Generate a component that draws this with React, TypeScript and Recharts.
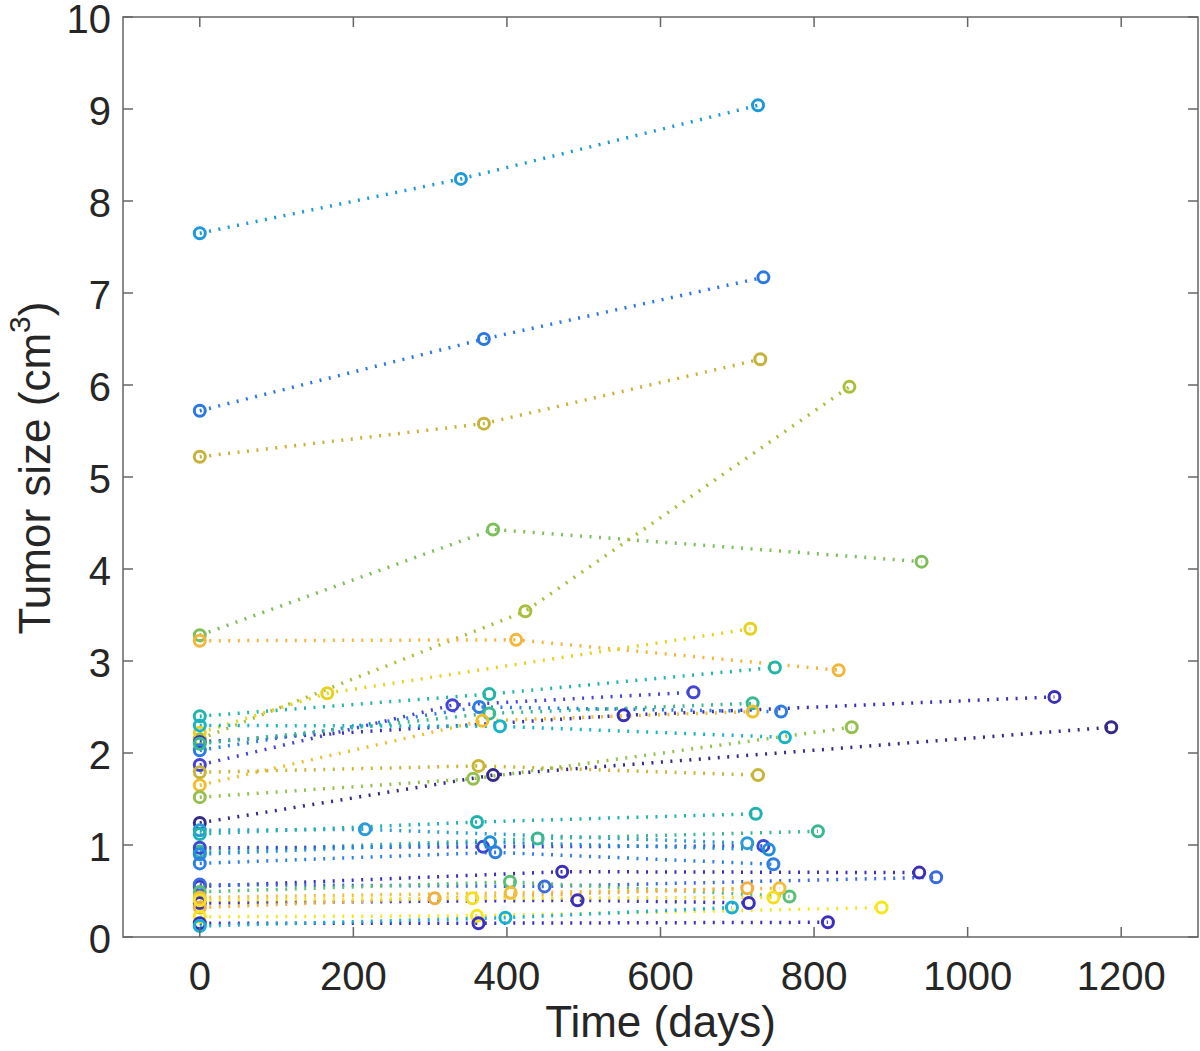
import { LineChart, Line, XAxis, YAxis, ReferenceArea } from "recharts"

const xTicks = [0, 200, 400, 600, 800, 1000, 1200]
const yTicks = [0, 1, 2, 3, 4, 5, 6, 7, 8, 9, 10]

// visit days per patient (one row per patient)
const patientDays = [
  [0, 340, 727],
  [0, 370, 734],
  [0, 370, 730],
  [0, 382, 940],
  [0, 424, 846],
  [0, 412, 832],
  [0, 166, 717],
  [0, 377, 749],
  [0, 329, 643],
  [0, 382, 1187],
  [0, 552, 1113],
  [0, 364, 757],
  [0, 377, 720],
  [0, 368, 720],
  [0, 391, 762],
  [0, 363, 727],
  [0, 356, 849],
  [0, 215, 713],
  [0, 361, 724],
  [0, 440, 805],
  [0, 369, 734],
  [0, 378, 741],
  [0, 385, 747],
  [0, 472, 937],
  [0, 449, 959],
  [0, 404, 768],
  [0, 405, 755],
  [0, 492, 715],
  [0, 306, 713],
  [0, 355, 747],
  [0, 361, 888],
  [0, 363, 818],
  [0, 398, 693],
]

// tumor size (cm3) at each visit
const patientSizes = [
  [7.65, 8.24, 9.04],
  [5.72, 6.5, 7.17],
  [5.22, 5.58, 6.28],
  [3.28, 4.43, 4.08],
  [2.15, 3.54, 5.98],
  [3.22, 3.23, 2.9],
  [2.22, 2.65, 3.35],
  [2.4, 2.64, 2.93],
  [1.87, 2.52, 2.66],
  [1.24, 1.76, 2.28],
  [2.12, 2.41, 2.61],
  [2.03, 2.5, 2.45],
  [2.1, 2.43, 2.54],
  [1.65, 2.35, 2.45],
  [2.3, 2.29, 2.17],
  [1.79, 1.86, 1.76],
  [1.52, 1.72, 2.28],
  [1.16, 1.17, 1.02],
  [1.12, 1.25, 1.34],
  [0.93, 1.07, 1.15],
  [0.97, 0.98, 0.99],
  [0.9, 1.03, 0.95],
  [0.8, 0.92, 0.79],
  [0.55, 0.71, 0.7],
  [0.57, 0.55, 0.65],
  [0.49, 0.6, 0.44],
  [0.43, 0.48, 0.53],
  [0.37, 0.4, 0.37],
  [0.32, 0.42, 0.53],
  [0.4, 0.42, 0.43],
  [0.22, 0.23, 0.32],
  [0.15, 0.15, 0.16],
  [0.12, 0.21, 0.32],
]

const patientColors = [
  "#1f9ad8", "#2c78e2", "#c7b23a", "#7ebf5c", "#a8bf3a", "#f3b53a", "#e6d21e",
  "#22b5a8", "#4444d6", "#352a87", "#3a31b8", "#2b7de0", "#39b98f", "#eec030",
  "#18b4c6", "#c9b535", "#93c04e", "#2a9ad8", "#1fb3b0", "#3bb892", "#3c48d6",
  "#1f8fdc", "#2d7fe2", "#3a2fb8", "#3a6ae0", "#5abf74", "#f1be3a", "#3b30b8",
  "#eeb040", "#f4e020", "#f5e818", "#3b2fc0", "#1ab0d0",
]

const series = patientDays.map((days, i) =>
  days.map((d, j) => ({ x: d, y: patientSizes[i][j] }))
)

const PLOT_W = 1075
const PLOT_H = 920
const TICK_LEN = 10
const AXIS_COLOR = "#666"
const TEXT_COLOR = "#262626"
const FONT = "'Liberation Sans', Arial, Helvetica, sans-serif"

function YTick({ x, y, payload }: any) {
  return (
    <g>
      <line x1={x} x2={x + TICK_LEN} y1={y} y2={y} stroke={AXIS_COLOR} strokeWidth={1.5} />
      <line x1={x + PLOT_W} x2={x + PLOT_W - TICK_LEN} y1={y} y2={y} stroke={AXIS_COLOR} strokeWidth={1.5} />
      <text x={x - 12} y={y + 2} textAnchor="end" dominantBaseline="central" fontSize={40} fontFamily={FONT} fill={TEXT_COLOR}>
        {payload.value}
      </text>
    </g>
  )
}

function XTick({ x, y, payload }: any) {
  return (
    <g>
      <line x1={x} x2={x} y1={y} y2={y - TICK_LEN} stroke={AXIS_COLOR} strokeWidth={1.5} />
      <line x1={x} x2={x} y1={y - PLOT_H} y2={y - PLOT_H + TICK_LEN} stroke={AXIS_COLOR} strokeWidth={1.5} />
      <text x={x} y={y + 39} textAnchor="middle" dominantBaseline="central" fontSize={40} fontFamily={FONT} fill={TEXT_COLOR}>
        {payload.value}
      </text>
    </g>
  )
}

function YLabel() {
  return (
    <text transform="translate(50, 468) rotate(-90)" textAnchor="middle" fontSize={44} fontFamily={FONT} fill={TEXT_COLOR}>
      Tumor size (cm
      <tspan dy={-20} fontSize={30}>3</tspan>
      <tspan dy={20}>)</tspan>
    </text>
  )
}

export default function App() {
  return (
    <div style={{ position: "absolute", left: 0, top: 0, width: 1200, height: 1051, background: "#fff" }}>
      <LineChart width={1200} height={1051} margin={{ top: 17, right: 2, bottom: 0, left: 0 }}>
        <XAxis
          type="number"
          dataKey="x"
          domain={[-100, 1300]}
          ticks={xTicks}
          height={114}
          axisLine={false}
          tickLine={false}
          tickSize={0}
          tickMargin={0}
          tick={<XTick />}
          label={{ value: "Time (days)", position: "insideBottom", offset: 14, fontSize: 44, fill: TEXT_COLOR, fontFamily: FONT }}
        />
        <YAxis
          type="number"
          dataKey="y"
          domain={[0, 10]}
          ticks={yTicks}
          width={123}
          axisLine={false}
          tickLine={false}
          tickSize={0}
          tickMargin={0}
          tick={<YTick />}
          label={<YLabel />}
        />
        <ReferenceArea x1={-100} x2={1300} y1={0} y2={10} fill="none" stroke={AXIS_COLOR} strokeWidth={1.5} />
        {series.map((pts, i) => (
          <Line
            key={i}
            data={pts}
            dataKey="y"
            type="linear"
            stroke={patientColors[i]}
            strokeWidth={3.5}
            strokeDasharray="2 7.5"
            dot={{ r: 5.5, fill: "none", stroke: patientColors[i], strokeWidth: 3, strokeDasharray: "none" }}
            activeDot={false}
            isAnimationActive={false}
          />
        ))}
      </LineChart>
    </div>
  )
}
